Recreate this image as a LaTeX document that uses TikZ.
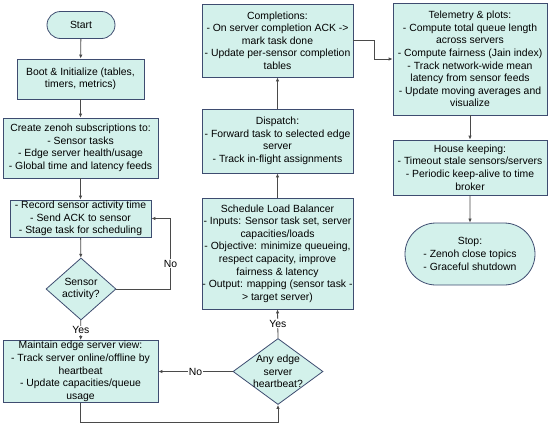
\documentclass[tikz,border=0pt]{standalone}
\usepackage{fontspec}
\setmainfont{Liberation Sans}
\usetikzlibrary{shapes.geometric,shapes.misc,arrows.meta}
\definecolor{boxfill}{HTML}{D3F1EB}
\definecolor{boxdraw}{HTML}{3E4C70}
\definecolor{linecol}{HTML}{4A4A4A}
\begin{document}
\begin{tikzpicture}[x=1pt,y=-1pt,
  every node/.style={font=\fontsize{10.4}{12.6}\selectfont, align=center, inner sep=0pt},
  procbox/.style={draw=boxdraw, fill=boxfill, line width=0.8pt, rectangle},
  termbox/.style={draw=boxdraw, fill=boxfill, line width=0.8pt, rounded rectangle},
  decbox/.style={draw=boxdraw, fill=boxfill, line width=0.8pt, diamond},
  conn/.style={draw=linecol, line width=0.8pt, -{Latex[length=4pt,width=3.5pt]}},
  lbl/.style={fill=white, inner sep=1pt}]
\useasboundingbox (0,0) rectangle (550,426);

\node[termbox, minimum width=68pt, minimum height=27pt] (start) at (81,25) {Start};
\node[procbox, minimum width=127pt, minimum height=40pt] (boot) at (80.5,79) {Boot \& Initialize (tables,\\timers, metrics)};
\node[procbox, minimum width=155pt, minimum height=60pt] (create) at (80.5,148) {Create zenoh subscriptions to:\\- Sensor tasks\\- Edge server health/usage\\- Global time and latency feeds};
\node[procbox, minimum width=141pt, minimum height=37pt] (record) at (80.5,218.5) {- Record sensor activity time\\- Send ACK to sensor\\- Stage task for scheduling};
\node[decbox, minimum width=70pt, minimum height=62pt, label={[align=center]center:Sensor\\activity?}] (sensor) at (81,289) {};
\node[procbox, minimum width=155pt, minimum height=62pt] (maint) at (80.5,371.5) {Maintain edge server view:\\- Track server online/offline by\\heartbeat\\- Update capacities/queue\\usage};
\node[decbox, minimum width=90pt, minimum height=66pt, label={[align=center]center:Any edge\\server\\heartbeat?}] (hb) at (278,371.5) {};
\node[procbox, minimum width=151pt, minimum height=111pt] (sched) at (277.5,253.5) {Schedule Load Balancer\\- Inputs: Sensor task set, server\\capacities/loads\\- Objective: minimize queueing,\\respect capacity, improve\\fairness \& latency\\- Output: mapping (sensor task -\\> target server)};
\node[procbox, minimum width=151pt, minimum height=64pt] (disp) at (277.5,141) {Dispatch:\\- Forward task to selected edge\\server\\- Track in-flight assignments};
\node[procbox, minimum width=151pt, minimum height=73pt] (comp) at (277.5,40.5) {Completions:\\- On server completion ACK ->\\mark task done\\- Update per-sensor completion\\tables};
\node[procbox, minimum width=154pt, minimum height=112pt] (tele) at (470,59) {Telemetry \& plots:\\- Compute total queue length\\across servers\\- Compute fairness (Jain index)\\- Track network-wide mean\\latency from sensor feeds\\- Update moving averages and\\visualize};
\node[procbox, minimum width=154pt, minimum height=55pt] (house) at (470,167.5) {House keeping:\\- Timeout stale sensors/servers\\- Periodic keep-alive to time\\broker};
\node[termbox, minimum width=130pt, minimum height=62pt] (stop) at (470,254) {Stop:\\- Zenoh close topics\\- Graceful shutdown};

\draw[conn] (start) -- (boot);
\draw[conn] (boot) -- (create);
\draw[conn] (create) -- (record);
\draw[conn] (record) -- (sensor);
\draw[conn] (sensor) -- node[lbl] (yes1) {Yes} (maint);
\draw[conn] (sensor.east) -- ++(54,0) |- node[lbl, pos=0.18] (no1) {No} (record.east);
\draw[conn] (maint.south) -- ++(0,19.5) -| (hb.south);
\draw[conn] (hb.west) -- node[lbl, pos=0.5] (no2) {No} (maint.east);
\draw[conn] (hb.north) -- node[lbl] (yes2) {Yes} (sched.south);
\draw[conn] (sched) -- (disp);
\draw[conn] (disp) -- (comp);
\draw[conn] (comp.east) -- ++(21,0) |- (tele.west);
\draw[conn] (tele) -- (house);
\draw[conn] (house) -- (stop);
\end{tikzpicture}
\end{document}
